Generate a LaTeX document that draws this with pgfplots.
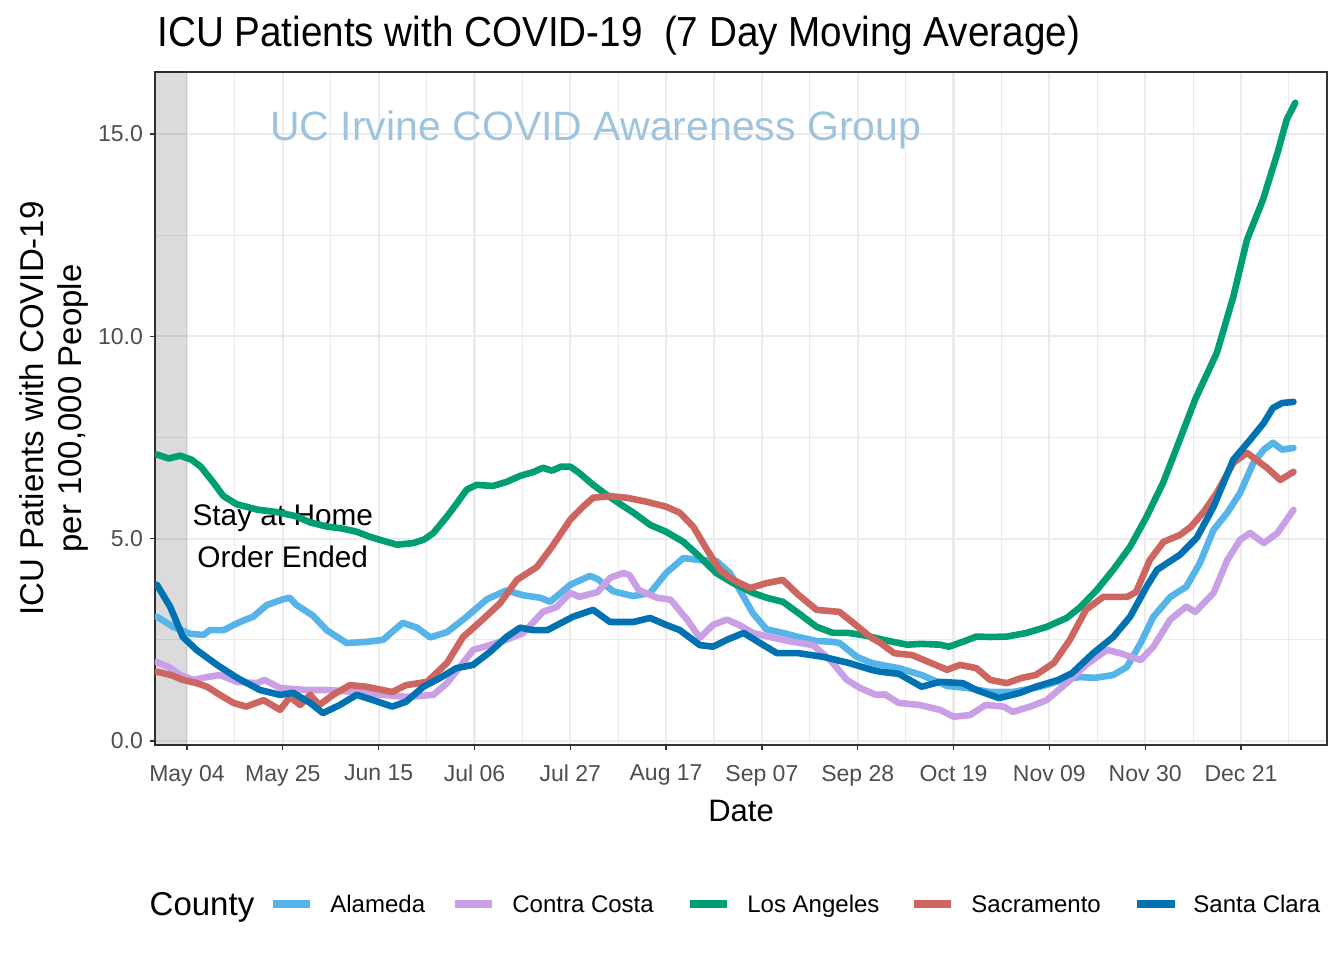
\documentclass[border=0pt]{standalone}
\usepackage{fontspec}
\setmainfont{Liberation Sans}
\usepackage{pgfplots}
\pgfplotsset{compat=1.18}
\definecolor{cAla}{HTML}{56B4E9}
\definecolor{cCon}{HTML}{C9A0E6}
\definecolor{cLA}{HTML}{009E73}
\definecolor{cSac}{HTML}{CD6560}
\definecolor{cSC}{HTML}{0072B2}
\definecolor{gridc}{HTML}{EBEBEB}
\definecolor{bordc}{HTML}{333333}
\definecolor{tickc}{HTML}{4D4D4D}
\definecolor{wmark}{HTML}{9EC3DC}
\begin{document}
\begin{tikzpicture}
\useasboundingbox (-77.5pt,-107.5pt) rectangle (594.5pt,372.5pt);
\begin{axis}[
  scale only axis, width=586pt, height=336.5pt,
  xmin=-7.01, xmax=249.85, ymin=-0.099, ymax=16.53,
  xtick={0,21,...,231},
  xticklabels={May 04,May 25,Jun 15,Jul 06,Jul 27,Aug 17,Sep 07,Sep 28,Oct 19,Nov 09,Nov 30,Dec 21},
  minor xtick={10.5,31.5,...,241.5},
  ytick={0,5,10,15}, yticklabels={0.0,5.0,10.0,15.0},
  minor ytick={2.5,7.5,12.5},
  grid=both,
  major grid style={color=gridc, line width=1.1pt},
  minor grid style={color=gridc, line width=0.55pt},
  tick align=outside, major tick length=2.5pt, minor tick length=0pt,
  tick pos=left,
  major tick style={color=bordc, line width=0.6pt},
  axis line style={color=bordc, line width=0.6pt},
  ticklabel style={font=\fontsize{11.5}{13}\selectfont, text=tickc},
  xticklabel style={yshift=-4pt},
  /pgf/number format/assume math mode=true,
  xlabel={Date}, xlabel style={font=\fontsize{15.5}{18}\selectfont, yshift=-0.5pt},
  ylabel={ICU Patients with COVID-19\\per 100,000 People},
  ylabel style={font=\fontsize{16.5}{19}\selectfont, align=center, yshift=-2pt},
  every axis plot/.append style={line width=3.3pt, line join=round, line cap=round},
  clip=true,
]
\fill[black, fill opacity=0.14] (axis cs:-8,-1) rectangle (axis cs:0,17);
\node[text=wmark, font=\fontsize{20.5}{24}\selectfont] at (axis cs:89.6,15.1) {UC Irvine COVID Awareness Group};
\node[align=center, font=\fontsize{14.9}{21}\selectfont] at (axis cs:21,5.07) {Stay at Home\\Order Ended};
% Alameda
\addplot[cAla] table {
-6.6 3.07
-3 2.82
0.7 2.65
3.6 2.62
5 2.74
8 2.74
11.6 2.94
14.5 3.07
17.5 3.36
21 3.50
22.5 3.54
24 3.36
27.6 3.10
30.6 2.74
35 2.42
39.4 2.45
43 2.50
45 2.70
47.3 2.92
50.4 2.80
53.3 2.56
57 2.69
61.3 3.07
65.7 3.50
70 3.72
73.7 3.60
77.4 3.54
79.6 3.44
84 3.86
88.3 4.08
90 4.00
93.4 3.70
97.8 3.58
101.5 3.66
105 4.15
108.8 4.52
112.4 4.47
116 4.45
119 4.15
122 3.56
124 3.16
127 2.76
130.6 2.67
134 2.57
138 2.47
141.6 2.45
143 2.42
146.8 2.08
150 1.93
153 1.86
156 1.80
161 1.63
166.6 1.36
171 1.31
176 1.21
181 1.21
187 1.34
192 1.51
195.7 1.58
199 1.56
203 1.63
206 1.83
209 2.42
211.8 3.07
215.5 3.56
219 3.81
222 4.40
225 5.22
228 5.64
230.8 6.13
233.7 6.87
236 7.20
238 7.37
240 7.20
242.5 7.24
};
% Contra Costa
\addplot[cCon] table {
-6.6 1.95
-4 1.83
-1.5 1.63
1.4 1.51
4.4 1.58
7.2 1.63
11 1.46
15.3 1.43
17 1.51
20.4 1.31
26 1.26
31 1.26
37 1.21
43 1.14
48 1.09
54 1.14
57 1.43
59.8 1.83
62.7 2.25
66.4 2.37
70 2.50
73.7 2.67
78 3.19
81 3.31
84 3.66
86 3.56
90 3.68
92.7 4.03
95.6 4.15
97 4.10
99 3.73
103 3.54
106 3.49
109.6 3.00
112.4 2.55
115.3 2.87
118.3 3.00
121 2.87
124 2.67
128.5 2.55
132.8 2.45
137.2 2.37
141 2.00
144.6 1.51
147.5 1.31
151 1.14
153 1.15
156 0.94
160.6 0.89
165 0.77
168 0.60
171.6 0.64
175 0.89
179 0.85
181 0.72
184.8 0.85
188.4 1.01
192.8 1.43
197 1.88
201.6 2.25
204.5 2.17
209 2.00
211.8 2.33
215.5 3.00
219 3.32
221 3.19
225 3.66
228 4.47
230.8 4.97
233 5.14
236 4.89
239 5.14
242.5 5.71
};
% Los Angeles
\addplot[cLA] table {
-6.6 7.08
-4 6.98
-1.5 7.05
1 6.95
3 6.78
5.7 6.40
8 6.05
10.9 5.85
15.3 5.72
20 5.65
24 5.55
27 5.40
30.6 5.30
34 5.25
37.2 5.17
40 5.05
42.3 4.97
46 4.85
49.6 4.89
52 4.98
54 5.14
57 5.55
59 5.85
61.3 6.21
63.5 6.33
67 6.30
70 6.40
73 6.55
76 6.65
78 6.75
80 6.68
82 6.78
84 6.78
86 6.62
89 6.33
92 6.08
95 5.85
98 5.63
101.5 5.34
105 5.17
108.8 4.92
112.4 4.55
116 4.15
119.7 3.90
124 3.66
127 3.54
130.6 3.44
134 3.16
138 2.82
141.6 2.67
145 2.67
149 2.60
152.6 2.50
157.8 2.38
161 2.40
165 2.38
167 2.33
170 2.45
173 2.58
176 2.57
179.7 2.58
184 2.67
188.4 2.82
192.8 3.04
195.7 3.30
199.4 3.73
203 4.23
206.7 4.80
210.3 5.54
214 6.40
217.6 7.45
221 8.45
225.7 9.59
229.3 10.97
232.3 12.38
235.8 13.37
239 14.53
241 15.35
242.9 15.77
};
% Sacramento
\addplot[cSac] table {
-6.6 1.71
-3.5 1.63
-0.9 1.51
2.1 1.43
4.4 1.34
7.2 1.14
10.2 0.94
13 0.85
16.8 1.01
20.4 0.77
22.6 1.09
24.8 0.89
27 1.14
29 0.89
32 1.14
35.7 1.38
39.4 1.34
45 1.21
48 1.38
52.6 1.46
57 1.93
60.5 2.57
64.2 2.94
68.6 3.40
72.3 3.98
76.7 4.30
80 4.80
84 5.47
86.8 5.79
89 6.01
92.7 6.05
96.4 6.01
100.8 5.91
105 5.79
108 5.64
111 5.29
114 4.72
116.8 4.23
119.7 3.98
123.4 3.78
127 3.90
130.6 3.98
134 3.61
138 3.24
143 3.19
146 2.92
150 2.55
152 2.42
155 2.17
159 2.12
163 1.93
166.6 1.76
169.4 1.88
173 1.80
176 1.51
179.7 1.43
183 1.56
186 1.63
190 1.93
193.5 2.50
197 3.24
200.8 3.56
206 3.56
208 3.68
211 4.47
214 4.92
217.6 5.09
220 5.29
222.8 5.66
225.7 6.13
229.3 6.87
232.3 7.12
236.7 6.75
239.6 6.45
242.5 6.65
};
% Santa Clara
\addplot[cSC] table {
-6.6 3.86
-3.7 3.32
-0.9 2.57
2.1 2.25
6.6 1.88
11 1.56
16 1.26
20.4 1.14
23.3 1.19
27 0.94
29.8 0.69
33.5 0.89
37.2 1.14
40.8 1.01
45 0.85
48 0.97
51.8 1.34
55.5 1.56
59 1.80
62.7 1.88
66.4 2.20
70 2.57
73 2.80
75.8 2.74
79 2.74
84.6 3.07
89 3.24
92.7 2.94
97.8 2.94
101.5 3.04
105 2.87
108 2.74
112.4 2.37
115.3 2.33
118.3 2.50
122 2.67
125.6 2.42
129.3 2.17
134 2.17
139.4 2.08
145 1.93
150 1.76
152 1.71
156 1.66
161 1.34
165 1.46
170 1.43
173 1.26
178 1.06
182.6 1.19
186 1.34
191 1.51
194 1.68
198.6 2.17
203 2.57
206.7 3.07
210.3 3.81
212.6 4.23
217.6 4.60
221.3 5.02
225 5.79
229.3 6.95
233 7.44
236 7.86
238 8.23
240 8.35
242.5 8.38
};
\end{axis}
% title
\node[anchor=west, font=\fontsize{21}{24}\selectfont, xscale=0.92, inner sep=0pt] at (1pt,354.5pt) {ICU Patients with COVID-19\ \ (7 Day Moving Average)};
% legend
\node[anchor=base, font=\fontsize{16.5}{18}\selectfont, inner sep=0pt] at (23.5pt,-85.4pt) {County};
\foreach \xa/\xb/\xt/\col/\lab in {59/77.5/87.5/cAla/Alameda, 150/168.5/178.5/cCon/Contra Costa, 267.5/286/296/cLA/Los Angeles, 379.5/398/408/cSac/Sacramento, 491/510/519/cSC/Santa Clara}{
  \draw[\col, line width=4pt] (\xa pt,-79.5pt) -- (\xb pt,-79.5pt);
  \node[anchor=base west, font=\fontsize{12}{14}\selectfont, inner sep=0pt] at (\xt pt,-83.8pt) {\lab};
}
\end{tikzpicture}
\end{document}
